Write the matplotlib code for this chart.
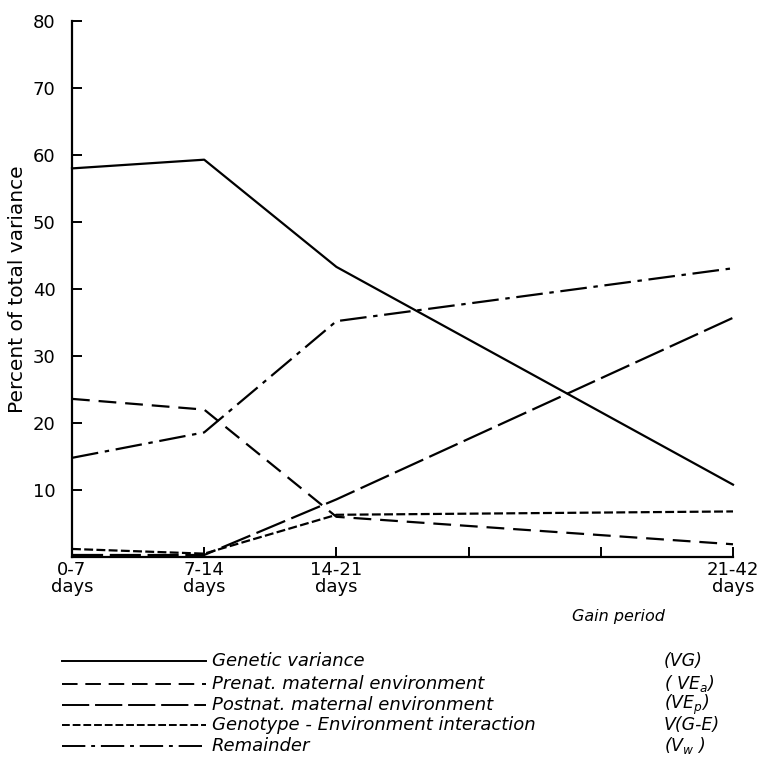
import matplotlib
matplotlib.use("Agg")
from matplotlib import pyplot as plt

plt.rcParams['font.family'] = ['DejaVu Sans']
plt.rcParams['mathtext.fontset'] = 'dejavusans'

# gain periods (x position in weeks, only some are labelled)
periods = [0, 1, 2, 5]
period_labels = ["0-7\ndays", "7-14\ndays", "14-21\ndays", "21-42\ndays"]
x_ticks = [0, 1, 2, 3, 4, 5]

# percent of total variance
vg = [58.0, 59.3, 43.3, 10.8]
ve_a = [23.6, 22.0, 6.0, 1.9]
ve_p = [0.3, 0.3, 8.6, 35.7]
v_ge = [1.2, 0.5, 6.3, 6.8]
v_w = [14.8, 18.6, 35.2, 43.1]

names = ["Genetic variance", "Prenat. maternal environment",
         "Postnat. maternal environment", "Genotype - Environment interaction",
         "Remainder"]
symbols = ["(VG)", "( VE$_a$)", "(VE$_p$)", "V(G-E)", "(V$_w$ )"]

styles = ["solid", (0, (8, 4)), (0, (14, 3)), (0, (4, 1.5)), (0, (12, 3, 2, 3))]
series = [vg, ve_a, ve_p, v_ge, v_w]

fig = plt.figure(figsize=(7.61, 7.78), dpi=100)
ax = fig.add_axes([72 / 761, 1 - 557 / 778, (733 - 72) / 761, (557 - 21) / 778])

for vals, ls in zip(series, styles):
    ax.plot(periods, vals, color="black", linestyle=ls, linewidth=1.6, clip_on=False)

ax.set_xlim(0, 5)
ax.set_ylim(0, 80)
ax.spines["top"].set_visible(False)
ax.spines["right"].set_visible(False)
ax.spines["left"].set_linewidth(1.6)
ax.spines["bottom"].set_linewidth(1.6)

ax.set_yticks(range(10, 90, 10))
ax.set_yticklabels([str(v) for v in range(10, 90, 10)], fontsize=13)
ax.set_xticks(x_ticks)
ax.set_xticklabels([period_labels[periods.index(t)] if t in periods else "" for t in x_ticks],
                   fontsize=13, linespacing=0.95)
ax.tick_params(direction="in", length=7, width=1.4)
ax.tick_params(axis="y", pad=12)
ax.tick_params(axis="x", pad=3)
ax.set_ylabel("Percent of total variance", fontsize=14.5, labelpad=4)

fig.text(665 / 761, 1 - 617 / 778, "Gain period", fontsize=11.5, style="italic",
         ha="right", va="center")

# legend drawn underneath
rows = [661, 684, 705, 725, 746]
lax = fig.add_axes([0, 0, 1, 1])
lax.set_xlim(0, 761)
lax.set_ylim(778, 0)
lax.axis("off")
for row, ls, name, sym in zip(rows, styles, names, symbols):
    lax.plot([62, 206], [row, row], color="black", linestyle=ls, linewidth=1.4)
    lax.text(212, row, name, fontsize=13, style="italic", va="center", ha="left")
    lax.text(664, row, sym, fontsize=12.5, style="italic", va="center", ha="left")

fig.savefig("out.png", dpi=100)
